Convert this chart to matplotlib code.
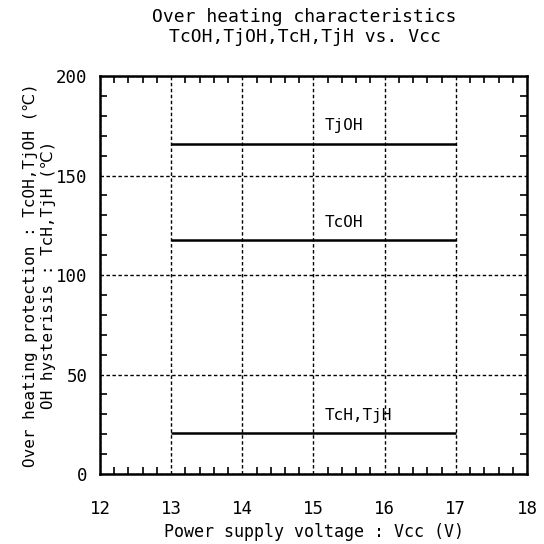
import matplotlib
matplotlib.use("Agg")
from matplotlib import pyplot as plt
from matplotlib.ticker import MultipleLocator
import numpy as np

# data
vcc = [13, 17]
tjoh = [166, 166]
tcoh = [117.5, 117.5]
tch_tjh = [20.5, 20.5]

series = [
    ("TjOH", tjoh),
    ("TcOH", tcoh),
    ("TcH,TjH", tch_tjh),
]
label_x = 15.16
label_dy = 9

plt.rcParams["font.family"] = ["DejaVu Sans Mono", "DejaVu Sans"]
plt.rcParams["font.size"] = 11

fig = plt.figure(figsize=(5.44, 5.44), dpi=100)
ax = fig.add_axes([100/544, 70/544, 427/544, 398/544])

for name, vals in series:
    ax.plot(vcc, vals, color="black", lw=1.8, solid_capstyle="butt")
    ax.text(label_x, vals[0] + label_dy, name, ha="left", va="center", fontsize=11.5)

ax.set_xlim(12, 18)
ax.set_ylim(0, 200)
ax.xaxis.set_major_locator(MultipleLocator(1))
ax.xaxis.set_minor_locator(MultipleLocator(0.2))
ax.yaxis.set_major_locator(MultipleLocator(50))
ax.yaxis.set_minor_locator(MultipleLocator(10))

ax.tick_params(which="both", direction="in", top=True, right=True, color="black")
ax.tick_params(which="major", length=0, pad=19, labelsize=12.5)
ax.tick_params(which="minor", length=5, width=1.2)
ax.tick_params(axis="y", which="major", pad=9)

ax.grid(True, which="major", color="black", linestyle=(0, (2.5, 1.8)), linewidth=1)
for s in ax.spines.values():
    s.set_linewidth(1.8)

ax.set_xlabel("Power supply voltage : Vcc (V)", fontsize=12, labelpad=3)
ax.set_ylabel("Over heating protection : TcOH,TjOH (\u2103)\nOH hysterisis : TcH,TjH (\u2103)",
              fontsize=11.5, labelpad=0, linespacing=1.25)

fig.text(0.56, 0.985, "Over heating characteristics\nTcOH,TjOH,TcH,TjH vs. Vcc",
         ha="center", va="top", fontsize=13, linespacing=1.1)

fig.savefig("out.png", dpi=100)
